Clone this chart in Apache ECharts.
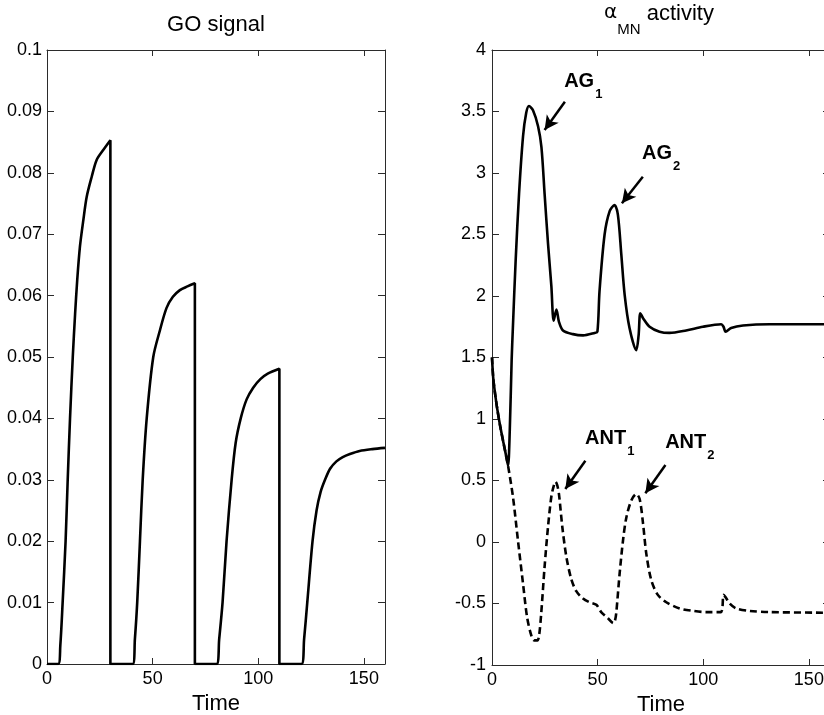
<!DOCTYPE html>
<html>
<head>
<meta charset="utf-8">
<script src="https://cdn.jsdelivr.net/npm/echarts@6/dist/echarts.min.js"></script>
<style>
  html, body { margin: 0; padding: 0; background: #fff; }
  #chart { width: 824px; height: 715px; }
</style>
</head>
<body>
<div id="chart"></div>
<script>
// ---- data: [time, value] ----
const timeTicks = [0, 50, 100, 150];

// GO signal: four ramps, each reset to zero at the end of its interval
const goSignal = [
  [0, 0], [5.3, 0], [6.3, 0.003], [7.4, 0.01], [8.8, 0.02], [9.8, 0.03], [10.9, 0.04],
  [12.2, 0.05], [13.3, 0.057], [14.3, 0.0625], [15.6, 0.068], [17.2, 0.0723], [18.8, 0.0761],
  [21.2, 0.0794], [23.5, 0.0821], [26.6, 0.0837], [30, 0.0853], [30, 0],
  [40.6, 0], [41.6, 0.004], [42.7, 0.01], [44, 0.02], [45.3, 0.03], [47.2, 0.04],
  [50.3, 0.05], [53.5, 0.0544], [56.6, 0.0580], [59.6, 0.0598], [62.9, 0.0609],
  [66.5, 0.0615], [70, 0.062], [70, 0],
  [80.3, 0], [81.5, 0.004], [83.1, 0.01], [85, 0.02], [87.4, 0.03], [89.3, 0.036],
  [91.7, 0.04], [94.5, 0.0431], [97.6, 0.0450], [101, 0.0464], [104.5, 0.0473],
  [110, 0.0481], [110, 0],
  [120.5, 0], [121.7, 0.004], [123.2, 0.01], [125.7, 0.02], [127.6, 0.025], [129.5, 0.028],
  [131.6, 0.030], [134, 0.0318], [137, 0.0330], [140, 0.0337], [143.4, 0.0342],
  [148, 0.0347], [154, 0.0350], [160, 0.0352]
];

// agonist alpha-MN activity (solid)
const agActivity = [
  [0, 1.5], [0.6, 1.33], [1.5, 1.2], [2.5, 1.08], [4, 0.93], [5.5, 0.8], [6.8, 0.69], [7.6, 0.62],
  [8.4, 0.9], [9.3, 1.48], [9.9, 1.75], [11.2, 2.29], [12.8, 2.83], [14.7, 3.30], [16.2, 3.49],
  [17.5, 3.545], [19.4, 3.51], [21.8, 3.38], [23.4, 3.21], [24.9, 2.83], [26.5, 2.43],
  [28.1, 2.08], [29.2, 1.80], [30.5, 1.89], [31.7, 1.79], [33.6, 1.72], [38.3, 1.69],
  [43.1, 1.68], [48.6, 1.70], [49.9, 1.71], [50.9, 2.04], [53.3, 2.50], [55.7, 2.69],
  [58, 2.74], [59.6, 2.66], [61.2, 2.34], [62.8, 2.01], [65.1, 1.74], [68.3, 1.56],
  [69.4, 1.68], [70.2, 1.86], [71.5, 1.82], [74.6, 1.75], [79.3, 1.71], [84, 1.70],
  [91.9, 1.72], [99.8, 1.75], [108.5, 1.77], [109.6, 1.75], [110.6, 1.71], [113.2, 1.74],
  [118.8, 1.76], [131.4, 1.77], [160, 1.77]
];

// antagonist alpha-MN activity (dashed)
const antActivity = [
  [0, 1.5], [0.6, 1.33], [1.5, 1.2], [2.5, 1.08], [4, 0.93], [5.5, 0.8], [6.8, 0.69], [7.6, 0.62],
  [9.9, 0.37], [12.3, 0.01], [14.7, -0.34], [16.6, -0.61], [18.6, -0.76], [20, -0.80],
  [21.5, -0.80], [22.3, -0.76], [23.3, -0.58], [24.9, -0.2], [26.5, 0.12], [28.1, 0.37],
  [29.3, 0.46], [30.1, 0.49], [30.9, 0.46], [31.7, 0.39], [33.3, 0.12], [35.2, -0.12],
  [37.5, -0.30], [39.9, -0.40], [43.1, -0.46], [46.2, -0.49], [49.4, -0.51], [51.7, -0.57],
  [54.9, -0.62], [57.5, -0.66], [58.2, -0.64], [58.8, -0.58], [60.4, -0.26], [62, 0.01],
  [63.6, 0.20], [66, 0.34], [68.3, 0.39], [69.9, 0.35], [71.5, 0.15], [73, -0.09],
  [75.4, -0.31], [78.5, -0.43], [82.5, -0.49], [88.8, -0.54], [95.1, -0.56], [101.4, -0.57],
  [108.3, -0.57], [109.6, -0.43], [110.6, -0.45], [112.5, -0.50], [115.6, -0.54],
  [121.9, -0.56], [131.4, -0.57], [160, -0.575]
];

// peak annotations: label anchor, arrow tail and arrow head in (time, activity)
const peakNotes = [
  { text: 'AG',  sub: '1', label: [34.4, 3.818], tail: [34.5, 3.58],  head: [24.9, 3.35] },
  { text: 'AG',  sub: '2', label: [71.3, 3.233], tail: [71.4, 2.97],  head: [61.5, 2.754] },
  { text: 'ANT', sub: '1', label: [44.3, 0.915], tail: [44.2, 0.661], head: [34.7, 0.431] },
  { text: 'ANT', sub: '2', label: [82.2, 0.883], tail: [82.1, 0.626], head: [72.6, 0.396] }
];

// ---- styling ----
const FONT = '"Liberation Sans", Arial, Helvetica, sans-serif';
const INK = '#000';
const FRAME = '#2b2b2b';
const CURVE_W = 2.6;

function boxXAxes(gridIndex) {
  const base = {
    gridIndex, type: 'value', min: 0, max: 160, interval: 50,
    splitLine: { show: false },
    axisLine: { show: true, onZero: false, lineStyle: { color: FRAME, width: 1 } },
    axisTick: { show: true, inside: true, length: 6, customValues: timeTicks, lineStyle: { color: FRAME, width: 1 } }
  };
  return [
    Object.assign({}, base, {
      position: 'bottom',
      name: 'Time', nameLocation: 'middle', nameGap: 29,
      nameTextStyle: { fontFamily: FONT, fontSize: 22, color: INK },
      axisLabel: {
        fontFamily: FONT, fontSize: 18, color: INK, margin: 6,
        customValues: timeTicks, hideOverlap: false,
        formatter: v => String(v)
      }
    }),
    Object.assign({}, base, { position: 'top', axisLabel: { show: false } })
  ];
}

function boxYAxes(gridIndex, min, max, step, digits, margin) {
  const base = {
    gridIndex, type: 'value', min, max, interval: step,
    splitLine: { show: false },
    axisLine: { show: true, onZero: false, lineStyle: { color: FRAME, width: 1 } },
    axisTick: { show: true, inside: true, length: 7, lineStyle: { color: FRAME, width: 1 } }
  };
  return [
    Object.assign({}, base, {
      position: 'left',
      axisLabel: {
        fontFamily: FONT, fontSize: 18, color: INK, margin,
        formatter: v => String(+v.toFixed(digits))
      }
    }),
    Object.assign({}, base, { position: 'right', axisLabel: { show: false } })
  ];
}

const labelRich = {
  m: { fontFamily: FONT, fontSize: 20, fontWeight: 'bold', color: INK, lineHeight: 20, verticalAlign: 'top' },
  s: { fontFamily: FONT, fontSize: 13, fontWeight: 'bold', color: INK, lineHeight: 13, verticalAlign: 'top', padding: [16, 0, 0, 1] }
};

const chart = echarts.init(document.getElementById('chart'), null, { renderer: 'canvas' });

chart.setOption({
  animation: false,
  backgroundColor: '#fff',
  grid: [
    { left: 47, top: 50, width: 338, height: 614, outerBoundsMode: 'none', containLabel: false },
    { left: 492, top: 50, width: 338, height: 615, outerBoundsMode: 'none', containLabel: false }
  ],
  xAxis: [...boxXAxes(0), ...boxXAxes(1)],
  yAxis: [...boxYAxes(0, 0, 0.1, 0.01, 2, 5), ...boxYAxes(1, -1, 4, 0.5, 1, 6)],
  graphic: [
    {
      type: 'text', x: 216, y: 14, silent: true,
      style: { text: 'GO signal', fontFamily: FONT, fontSize: 22, lineHeight: 22, fill: INK, align: 'center', verticalAlign: 'top' }
    },
    {
      type: 'text', x: 659, y: 3, silent: true,
      style: {
        text: '{a|α}{s|MN}{t| activity}', align: 'center', verticalAlign: 'top',
        rich: {
          a: { fontFamily: '"DejaVu Sans", sans-serif', fontSize: 20, lineHeight: 22, fill: INK, verticalAlign: 'top' },
          s: { fontFamily: FONT, fontSize: 15, lineHeight: 15, fill: INK, verticalAlign: 'top', padding: [19, 0, 0, 0] },
          t: { fontFamily: FONT, fontSize: 22, lineHeight: 22, fill: INK, verticalAlign: 'top' }
        }
      }
    }
  ],
  series: [
    {
      name: 'GO signal', type: 'line', xAxisIndex: 0, yAxisIndex: 0,
      data: goSignal, showSymbol: false, smooth: 0.3, silent: true,
      lineStyle: { color: INK, width: CURVE_W }
    },
    {
      name: 'ANT', type: 'line', xAxisIndex: 2, yAxisIndex: 2,
      data: antActivity, showSymbol: false, smooth: 0.3, silent: true,
      lineStyle: { color: INK, width: CURVE_W, type: [7, 4] }
    },
    {
      name: 'AG', type: 'line', xAxisIndex: 2, yAxisIndex: 2,
      data: agActivity, showSymbol: false, smooth: 0.3, silent: true,
      lineStyle: { color: INK, width: CURVE_W },
      markLine: {
        silent: true, animation: false,
        symbol: ['none', 'arrow'], symbolSize: [11, 14],
        lineStyle: { color: INK, width: 2.5, type: 'solid' },
        label: { show: false },
        data: peakNotes.map(n => [{ coord: n.tail }, { coord: n.head }])
      },
      markPoint: {
        silent: true, animation: false,
        symbol: 'circle', symbolSize: 1,
        itemStyle: { color: 'rgba(0,0,0,0)' },
        data: peakNotes.map(n => ({
          coord: n.label,
          label: {
            show: true, position: [0, 0],
            formatter: '{m|' + n.text + '}{s|' + n.sub + '}',
            rich: labelRich
          }
        }))
      }
    }
  ]
});
</script>
</body>
</html>
